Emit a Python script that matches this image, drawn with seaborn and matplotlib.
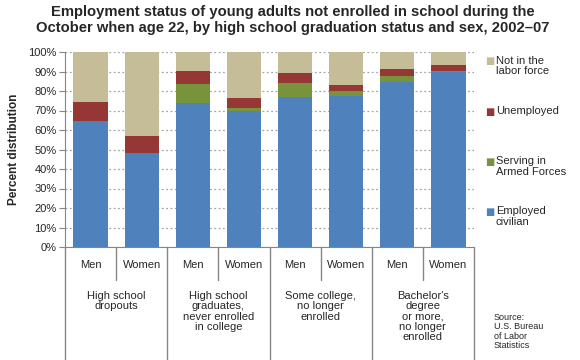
import pandas as pd
import matplotlib.pyplot as plt
import seaborn as sns

# Datos (porcentajes)
grupos = ["High school\ndropouts",
          "High school\ngraduates,\nnever enrolled\nin college",
          "Some college,\nno longer\nenrolled",
          "Bachelor's\ndegree\nor more,\nno longer\nenrolled"]
sexos = ["Men", "Women"]
barras = [f"{g}|{s}" for g in range(len(grupos)) for s in sexos]

empleado = [64.6, 48.2, 73.8, 69.7, 76.9, 77.6, 84.8, 89.9]
fuerzas = [0.0, 0.0, 9.8, 1.6, 7.2, 2.4, 2.9, 0.4]
desempleado = [9.8, 8.7, 6.7, 5.1, 5.1, 3.1, 3.6, 3.0]
fuera = [25.6, 43.1, 9.7, 23.6, 10.8, 16.9, 8.7, 6.7]

series = ["Employed\ncivilian", "Serving in\nArmed Forces", "Unemployed", "Not in the\nlabor force"]
colores = ["#4F81BD", "#77933C", "#953735", "#C4BD97"]

df = pd.DataFrame({"barra": barras, "emp": empleado, "arm": fuerzas,
                   "une": desempleado, "nilf": fuera})
df["c1"] = df["emp"]
df["c2"] = df["c1"] + df["arm"]
df["c3"] = df["c2"] + df["une"]
df["c4"] = df["c3"] + df["nilf"]

sns.set_style("white")
plt.rcParams["font.family"] = ["Liberation Sans", "DejaVu Sans"]

fig = plt.figure(figsize=(5.8, 3.6), dpi=100)
ax = fig.add_axes([65 / 580, 1 - 247 / 360, (474 - 65) / 580, (247 - 52) / 360])

# barras apiladas: se dibujan los acumulados de arriba hacia abajo
for col, color in zip(["c4", "c3", "c2", "c1"], colores[::-1]):
    sns.barplot(data=df, x="barra", y=col, color=color, width=0.67,
                saturation=1, linewidth=0, edgecolor=color, ax=ax, zorder=3)

ax.set_ylim(0, 100)
ax.set_xlim(-0.5, len(barras) - 0.5)
ax.set_yticks(range(0, 101, 10))
ax.set_yticklabels([f"{v}%" for v in range(0, 101, 10)], fontsize=8)
ax.yaxis.grid(True, linestyle=(0, (1.5, 2)), color="#a6a6a6", linewidth=0.9, zorder=0)
ax.set_xticks([])
ax.set_xlabel("")
ax.set_ylabel("Percent distribution", fontsize=8.5, fontweight="bold", labelpad=6)
for lado in ["top", "right"]:
    ax.spines[lado].set_visible(False)
for lado in ["left", "bottom"]:
    ax.spines[lado].set_color("#868686")
ax.tick_params(axis="y", length=4, color="#868686", left=True, pad=2)

# divisiones del eje de categorías
trans = ax.get_xaxis_transform()
for i in range(len(barras) + 1):
    x = i - 0.5
    y_fin = -0.58 if i % 2 == 0 else -0.17
    ax.plot([x, x], [0, y_fin], color="#868686", linewidth=1, transform=trans, clip_on=False)

for i, b in enumerate(barras):
    ax.text(i, -0.09, sexos[i % 2], transform=trans, ha="center", va="center", fontsize=8)
for g, nombre in enumerate(grupos):
    ax.text(2 * g + 0.5, -0.225, nombre, transform=trans, ha="center", va="top",
            fontsize=8, linespacing=1.05)

fig.text(0.505, 0.985, "Employment status of young adults not enrolled in school during the\n"
         "October when age 22, by high school graduation status and sex, 2002\u201307",
         ha="center", va="top", fontsize=10.6, fontweight="bold", linespacing=1.12)

# leyenda manual
pos_y = [220, 170, 113, 69]
for nombre, color, y in zip(series, colores, pos_y):
    lineas = nombre.count("\n") + 1
    y_top = y - 6.5 * (lineas - 1)
    fig.text(485 / 580, 1 - (y_top - 1.5) / 360, "\u25A0", color=color, fontsize=7,
             ha="left", va="center", family="DejaVu Sans")
    fig.text(496 / 580, 1 - (y_top - 7) / 360, nombre, fontsize=8, ha="left", va="top",
             linespacing=1.05)

fig.text(494 / 580, 1 - 313 / 360, "Source:\nU.S. Bureau\nof Labor\nStatistics",
         fontsize=6.5, ha="left", va="top", linespacing=1.05)

fig.savefig("out.png", dpi=100)
